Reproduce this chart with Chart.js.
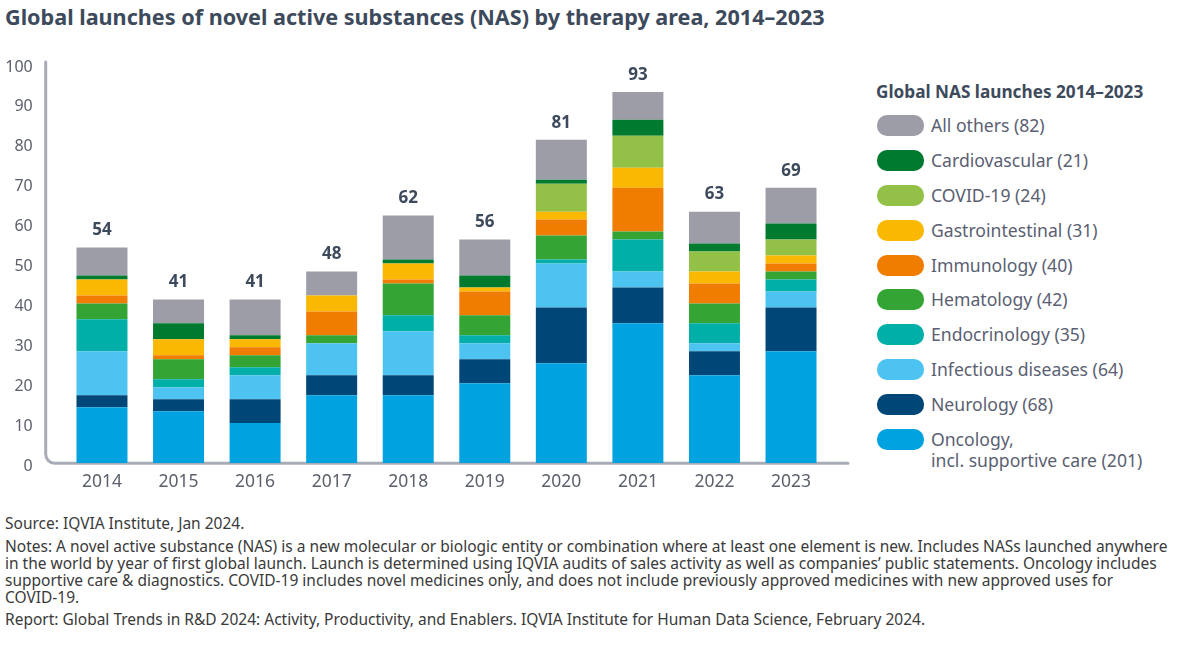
<!DOCTYPE html>
<html>
<head>
<meta charset="utf-8">
<script src="https://cdn.jsdelivr.net/npm/chart.js@4"></script>
<style>
  html, body { margin: 0; padding: 0; background: #fff; }
  body { width: 1180px; height: 647px; position: relative; overflow: hidden; font-family: "Noto Sans", "Open Sans", sans-serif; }
  #title { position: absolute; left: 5px; top: 2px; font-size: 21.6px; font-weight: 700; color: #3d4a5c; white-space: nowrap; }
  #chart-wrap { position: absolute; left: 0; top: 0; width: 860px; height: 510px; }
  #legend { position: absolute; left: 876px; top: 79px; }
  #legend h4 { margin: 0 0 11px 0; font-size: 17.2px; line-height: 25px; font-weight: 700; color: #3d4a5c; white-space: nowrap; }
  .lg-item { display: flex; align-items: flex-start; height: 34.9px; }
  .lg-box { width: 47px; height: 21px; border-radius: 10px; flex: none; margin-left: 1px; }
  .lg-text { margin-left: 7px; font-size: 17.6px; line-height: 21px; color: #5a6072; white-space: nowrap; }
  #notes { position: absolute; left: 5px; top: 515px; font-size: 15.5px; color: #3a3a3a; white-space: nowrap; line-height: 17px; }
  #notes p { margin: 0 0 6px 0; }
  #notes p.last { margin-top: -1px; }
</style>
</head>
<body>
<div id="title">Global launches of novel active substances (NAS) by therapy area, 2014–2023</div>
<div id="chart-wrap"><canvas id="nas-chart" width="860" height="510"></canvas></div>
<div id="legend">
  <h4>Global NAS launches 2014–2023</h4>
  <div id="legend-items"></div>
</div>
<div id="notes">
  <p>Source: IQVIA Institute, Jan 2024.</p>
  <p>Notes: A novel active substance (NAS) is a new molecular or biologic entity or combination where at least one element is new. Includes NASs launched anywhere<br>in the world by year of first global launch. Launch is determined using IQVIA audits of sales activity as well as companies’ public statements. Oncology includes<br>supportive care &amp; diagnostics. COVID-19 includes novel medicines only, and does not include previously approved medicines with new approved uses for<br>COVID-19.</p>
  <p class="last">Report: Global Trends in R&amp;D 2024: Activity, Productivity, and Enablers. IQVIA Institute for Human Data Science, February 2024.</p>
</div>
<script>
// Data
const years = ['2014', '2015', '2016', '2017', '2018', '2019', '2020', '2021', '2022', '2023'];
const yTicks = [0, 10, 20, 30, 40, 50, 60, 70, 80, 90, 100];

const oncology       = [14, 13, 10, 17, 17, 20, 25, 35, 22, 28];
const neurology      = [3, 3, 6, 5, 5, 6, 14, 9, 6, 11];
const infectious     = [11, 3, 6, 8, 11, 4, 11, 4, 2, 4];
const endocrinology  = [8, 2, 2, 0, 4, 2, 1, 8, 5, 3];
const hematology     = [4, 5, 3, 2, 8, 5, 6, 2, 5, 2];
const immunology     = [2, 1, 2, 6, 1, 6, 4, 11, 5, 2];
const gastro         = [4, 4, 2, 4, 4, 1, 2, 5, 3, 2];
const covid          = [0, 0, 0, 0, 0, 0, 7, 8, 5, 4];
const cardiovascular = [1, 4, 1, 0, 1, 3, 1, 4, 2, 4];
const allOthers      = [7, 6, 9, 6, 11, 9, 10, 7, 8, 9];

// bottom to top of the stack
const series = [
  { name: 'Oncology,<br>incl. supportive care', data: oncology, color: '#00a3e0' },
  { name: 'Neurology', data: neurology, color: '#004677' },
  { name: 'Infectious diseases', data: infectious, color: '#4dc3f1' },
  { name: 'Endocrinology', data: endocrinology, color: '#00afa8' },
  { name: 'Hematology', data: hematology, color: '#34a535' },
  { name: 'Immunology', data: immunology, color: '#f07c00' },
  { name: 'Gastrointestinal', data: gastro, color: '#fbb800' },
  { name: 'COVID-19', data: covid, color: '#93c147' },
  { name: 'Cardiovascular', data: cardiovascular, color: '#007a2e' },
  { name: 'All others', data: allOthers, color: '#9d9da8' }
];

const totals = years.map((y, i) => series.reduce((s, d) => s + d.data[i], 0));

// HTML legend, top item = top of stack
const legendEl = document.getElementById('legend-items');
legendEl.innerHTML = series.slice().reverse().map(s => {
  const sum = s.data.reduce((a, b) => a + b, 0);
  return `
    <div class="lg-item">
      <div class="lg-box" style="background:${s.color}"></div>
      <div class="lg-text">${s.name} (${sum})</div>
    </div>`;
}).join('');

// Axis lines with a rounded corner
const axisLines = {
  id: 'axisLines',
  beforeDatasetsDraw(chart) {
    const { ctx, chartArea } = chart;
    const x0 = 45.7, y0 = chartArea.bottom + 0.3, r = 9;
    ctx.save();
    ctx.strokeStyle = '#a9abb6';
    ctx.lineWidth = 3;
    ctx.lineCap = 'round';
    ctx.beginPath();
    ctx.moveTo(x0, 62);
    ctx.lineTo(x0, y0 - r);
    ctx.arcTo(x0, y0, x0 + r, y0, r);
    ctx.lineTo(848, y0);
    ctx.stroke();
    ctx.restore();
  }
};

// Totals above each bar
const totalLabels = {
  id: 'totalLabels',
  afterDatasetsDraw(chart) {
    const { ctx } = chart;
    const xScale = chart.scales.x, yScale = chart.scales.y;
    ctx.save();
    ctx.font = '700 17px "Noto Sans", sans-serif';
    ctx.fillStyle = '#3d4a5c';
    ctx.textAlign = 'center';
    ctx.textBaseline = 'middle';
    totals.forEach((t, i) => {
      ctx.fillText(String(t), xScale.getPixelForValue(i), yScale.getPixelForValue(t) - 17);
    });
    ctx.restore();
  }
};

new Chart(document.getElementById('nas-chart'), {
  type: 'bar',
  data: {
    labels: years,
    datasets: series.map(s => ({
      label: s.name,
      data: s.data,
      backgroundColor: s.color,
      borderWidth: 0,
      barPercentage: 0.666,
      categoryPercentage: 1
    }))
  },
  options: {
    responsive: false,
    animation: false,
    devicePixelRatio: 1,
    layout: { padding: { left: 0, top: 64, right: 30.7, bottom: 0 } },
    plugins: {
      legend: { display: false },
      tooltip: { enabled: false }
    },
    scales: {
      x: {
        stacked: true,
        grid: { display: false, drawTicks: false },
        border: { display: false },
        ticks: { color: '#5b606c', font: { family: 'Noto Sans', size: 17.5 }, padding: 9 },
        afterFit: s => { s.height = 47; }
      },
      y: {
        stacked: true,
        min: 0,
        max: 100,
        grid: { display: false, drawTicks: false },
        border: { display: false },
        afterBuildTicks: s => { s.ticks = yTicks.map(v => ({ value: v })); },
        ticks: { color: '#5b606c', font: { family: 'Noto Sans', size: 16 }, padding: 31, labelOffset: 3 },
        afterFit: s => { s.width = 63.7; }
      }
    }
  },
  plugins: [axisLines, totalLabels]
});
</script>
</body>
</html>
